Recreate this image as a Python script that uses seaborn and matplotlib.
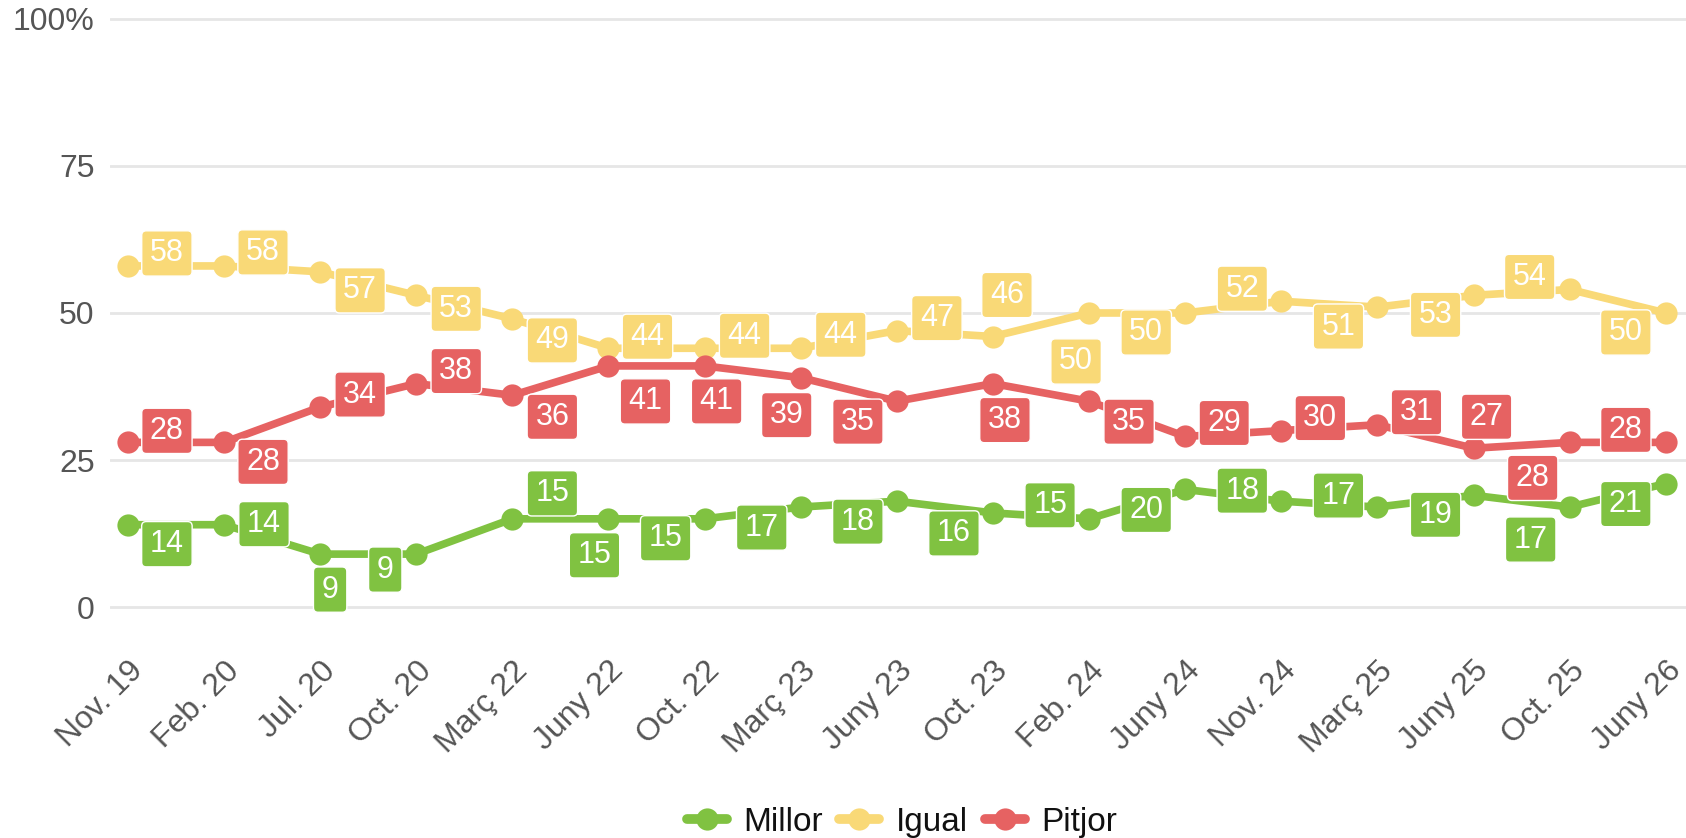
import pandas as pd
import matplotlib.pyplot as plt
import seaborn as sns
from matplotlib.lines import Line2D
from matplotlib.patches import BoxStyle

# 1. Survey waves and answers (%)
waves = ['Nov. 19', 'Feb. 20', 'Jul. 20', 'Oct. 20', 'Març 22', 'Juny 22', 'Oct. 22',
         'Març 23', 'Juny 23', 'Oct. 23', 'Feb. 24', 'Juny 24', 'Nov. 24', 'Març 25',
         'Juny 25', 'Oct. 25', 'Juny 26']
millor = [14, 14, 9, 9, 15, 15, 15, 17, 18, 16, 15, 20, 18, 17, 19, 17, 21]
igual = [58, 58, 57, 53, 49, 44, 44, 44, 47, 46, 50, 50, 52, 51, 53, 54, 50]
pitjor = [28, 28, 34, 38, 36, 41, 41, 39, 35, 38, 35, 29, 30, 31, 27, 28, 28]

# Where each data label sits relative to its point (pixels, right / down)
millor_dx = [39, 40, 10, -31, 40, -14, -39, -39, -39, -39, -39, -39, -39, -39, -38, -39, -40]
millor_dy = [16, -4, 32, 12, -29, 33, 16, 17, 17, 17, -17, 17, -14, -15, 16, 29, 17]
igual_dx = [39, 39, 40, 40, 40, 39, 40, 40, 40, 14, -13, -39, -39, -39, -38, -40, -40]
igual_dy = [-16, -17, 15, 10, 18, -15, -16, -17, -16, -45, 45, 16, -16, 16, 16, -16, 16]
pitjor_dx = [39, 39, 40, 40, 40, 37, 12, -14, -39, 12, 40, 39, 39, 39, 13, -37, -40]
pitjor_dy = [-15, 16, -16, -16, 18, 32, 32, 34, 17, 33, 17, -17, -16, -16, -35, 32, -16]

# 2. Long format for seaborn
df = pd.DataFrame({'wave': range(len(waves)), 'Millor': millor, 'Igual': igual, 'Pitjor': pitjor})
df_long = df.melt(id_vars='wave', var_name='resposta', value_name='pct')

colors = {'Millor': '#80c241', 'Igual': '#f9d977', 'Pitjor': '#e66262'}
offsets = {'Millor': (millor_dx, millor_dy), 'Igual': (igual_dx, igual_dy), 'Pitjor': (pitjor_dx, pitjor_dy)}

# 3. Global Styling
sns.set_theme(style="whitegrid")
plt.rcParams['font.family'] = ['Liberation Sans', 'DejaVu Sans']


def label_box(x0, y0, width, height, mutation_size):
    """Rounded label box, padded more at the sides than at top and bottom."""
    padx, pady = 0.27 * mutation_size, 0.25 * mutation_size
    return BoxStyle.Round(pad=0, rounding_size=0.15)(
        x0 - padx, y0 - pady, width + 2 * padx, height + 2 * pady, mutation_size)


fig, ax = plt.subplots(figsize=(16.86, 8.38), dpi=100)
fig.subplots_adjust(left=0.0652, right=1.0, bottom=0.2721, top=0.9809)

sns.lineplot(data=df_long, x='wave', y='pct', hue='resposta', palette=colors,
             marker='o', markersize=16, markeredgewidth=0, linewidth=5.5,
             solid_joinstyle='round', legend=False, ax=ax)

# 4. Data labels
for name, values in [('Millor', millor), ('Igual', igual), ('Pitjor', pitjor)]:
    dxs, dys = offsets[name]
    for i, v in enumerate(values):
        ax.annotate(str(v), xy=(i, v), xytext=(dxs[i], -dys[i]), textcoords='offset pixels',
                    ha='center', va='center_baseline', fontsize=22, color='white', zorder=5,
                    annotation_clip=False,
                    bbox=dict(boxstyle=label_box, fc=colors[name], ec='white', lw=1))

# 5. Axes
ax.set_xlim(-0.187, 16.21)
ax.set_ylim(-0.5, 100.5)
ax.set_xticks(range(len(waves)))
ax.set_xticklabels(waves, rotation=45, ha='right', va='top', rotation_mode='anchor')
ax.set_yticks([0, 25, 50, 75, 100])
ax.set_yticklabels(['0', '25', '50', '75', '100%'])
ax.set_xlabel('')
ax.set_ylabel('')
ax.xaxis.grid(False)
ax.yaxis.grid(True, color='#e6e6e6', linewidth=2)
ax.tick_params(axis='both', length=0, labelsize=23, labelcolor='#555555')
ax.tick_params(axis='x', pad=33)
ax.tick_params(axis='y', pad=11)
sns.despine(ax=ax, left=True, bottom=True)

# 6. Legend under the plot
handles = [Line2D([], [], color=c, lw=7, marker='o', markersize=16, markeredgewidth=0,
                  solid_capstyle='round') for c in colors.values()]
fig.legend(handles, list(colors), loc='center', bbox_to_anchor=(0.535, 0.019), ncol=3,
           frameon=False, fontsize=24, handlelength=1.2, handletextpad=0.5,
           columnspacing=0.5, labelcolor='#111111')

plt.savefig('out.png', dpi=100)
